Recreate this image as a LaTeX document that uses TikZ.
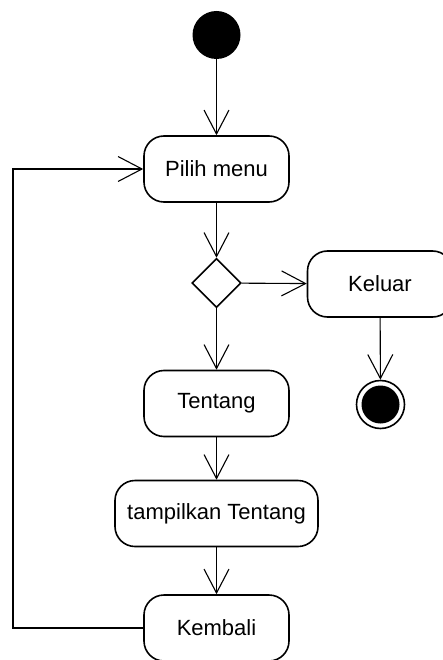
\documentclass[tikz,border=0pt]{standalone}
\usepackage{fontspec}
\setmainfont{Liberation Sans}
\usetikzlibrary{arrows.meta,shapes.geometric}
\begin{document}
\begin{tikzpicture}[x=1pt,y=-1pt,
  act/.style={draw,line width=1.6pt,rounded corners=20pt,minimum width=145pt,minimum height=66pt,inner sep=0pt,font=\fontsize{22}{26}\selectfont},
  arr/.style={line width=1.1pt,-{Straight Barb[length=24pt,width=25pt,line width=1.1pt]}},
  line/.style={line width=1.1pt}]
\useasboundingbox (0,0) rectangle (443,660);
\node[circle,fill=black,minimum size=48pt,inner sep=0pt] (start) at (216.5,35) {};
\node[act] (pilih) at (216.5,169) {Pilih menu};
\node[diamond,draw,line width=1.6pt,minimum width=49pt,minimum height=49pt,inner sep=0pt] (dec) at (216.5,283) {};
\node[act] (keluar) at (380,284) {Keluar};
\node[circle,draw,line width=1.6pt,minimum size=48pt,inner sep=0pt,
  path picture={\fill[black] (path picture bounding box.center) circle (19pt);}] (final) at (380.5,404.5) {};
\node[act] (tentang) at (216.5,403.5) {Tentang};
\node[act,minimum width=203pt] (tampil) at (216.5,513.5) {tampilkan Tentang};
\node[act] (kembali) at (216.5,628) {Kembali};
\coordinate (loop) at (13,0);
\draw[arr] (start) -- (pilih);
\draw[arr] (pilih) -- (dec);
\draw[arr] (dec) -- (keluar);
\draw[arr] (keluar) -- (final);
\draw[arr] (dec) -- (tentang);
\draw[arr] (tentang) -- (tampil);
\draw[arr] (tampil) -- (kembali);
\draw[arr] (kembali.west) -- (kembali.west -| loop) |- (pilih.west);
\end{tikzpicture}
\end{document}
